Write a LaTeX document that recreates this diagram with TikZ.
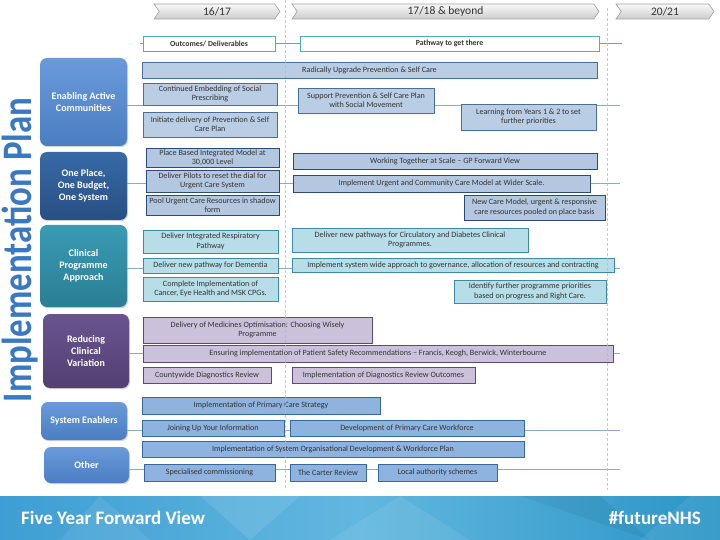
\documentclass[tikz,border=0pt]{standalone}
\usepackage{fontspec}
\setmainfont{Carlito}
\usetikzlibrary{shapes.symbols,shadows}
\definecolor{txt}{HTML}{333333}
\definecolor{aFill}{HTML}{B9CDE5}\definecolor{aDraw}{HTML}{4A6E9C}
\definecolor{bFill}{HTML}{B4C7E0}\definecolor{bDraw}{HTML}{2B4A78}
\definecolor{cFill}{HTML}{B7DDE8}\definecolor{cDraw}{HTML}{3B8CA3}
\definecolor{dFill}{HTML}{CCC1DA}\definecolor{dDraw}{HTML}{5F497A}
\definecolor{eFill}{HTML}{8FB3DF}\definecolor{eDraw}{HTML}{3A66A0}
\definecolor{catAt}{HTML}{6A9ADA}\definecolor{catAb}{HTML}{4A7EC2}
\definecolor{catBt}{HTML}{386AA6}\definecolor{catBb}{HTML}{284F84}
\definecolor{catCt}{HTML}{3A9BB3}\definecolor{catCb}{HTML}{2A7E95}
\definecolor{catDt}{HTML}{6A5490}\definecolor{catDb}{HTML}{533F72}
\definecolor{titleblue}{HTML}{3A78C2}
\definecolor{rowline}{HTML}{8EA9C8}
\definecolor{tealline}{HTML}{4BACC6}
\definecolor{footL}{HTML}{3E9ED3}\definecolor{footM}{HTML}{62B7DF}\definecolor{footR}{HTML}{2B95C6}
\newcommand\mybox[7]{\node[#2, minimum width={#5-#3}, minimum height={#6-#4}] (#1) at ({(#3+#5)/2},{(#4+#6)/2}) {#7};}
\begin{document}
\begin{tikzpicture}[x=1pt,y=-1pt,
  every node/.style={font=\fontsize{8.1}{9.4}\selectfont, text=txt, align=center, inner sep=0pt},
  rbase/.style={line width=0.8pt},
  ra/.style={rbase, fill=aFill, draw=aDraw},
  rb/.style={rbase, fill=bFill, draw=bDraw},
  rc/.style={rbase, fill=cFill, draw=cDraw},
  rd/.style={rbase, fill=dFill, draw=dDraw},
  re/.style={rbase, fill=eFill, draw=eDraw},
  ob/.style={draw=tealline, fill=white, line width=0.8pt, font=\fontsize{7.8}{9}\selectfont\bfseries},
  cat/.style={rounded corners=7pt, text=white, font=\fontsize{10}{11.8}\selectfont\bfseries,
     drop shadow={shadow xshift=1pt, shadow yshift=-1.2pt, opacity=0.35}},
  chev/.style={signal, signal from=west, signal to=east, signal pointer angle=110,
     draw=gray!75, top color=gray!5, bottom color=gray!40, line width=0.6pt,
     font=\fontsize{11.5}{12}\selectfont, text=black!80},
  rline/.style={draw=rowline, line width=0.7pt},
  periodline/.style={draw=gray!55, dash pattern=on 3pt off 2pt, line width=0.8pt}
]
\useasboundingbox (0,0) rectangle (720,540);
% title
\node[rotate=90, anchor=base, font=\fontsize{42}{42}\selectfont\bfseries, text=titleblue] (title) at (31,250) {\scalebox{0.83}[1]{Implementation Plan}};
% header chevrons
\mybox{h1}{chev}{154}{4}{280}{19}{16/17}
\mybox{h2}{chev}{292}{4}{599}{19}{17/18 \& beyond}
\mybox{h3}{chev}{616}{4}{714}{19}{20/21}
% outcomes line
\coordinate (oL) at (140,43); \coordinate (oR) at (622,43);
\draw[draw=tealline, line width=0.6pt] (oL) -- (oR);
\mybox{o1}{ob}{143}{36}{275}{51}{Outcomes/ Deliverables}
\mybox{o2}{ob}{300}{36}{599}{51}{Pathway to get there}
% category boxes
\mybox{catA}{cat, top color=catAt, bottom color=catAb}{40}{58}{127}{146}{Enabling Active\\Communities}
\mybox{catB}{cat, top color=catBt, bottom color=catBb}{40}{152}{127}{220}{One Place,\\One Budget,\\One System}
\mybox{catC}{cat, top color=catCt, bottom color=catCb}{40}{225}{127}{307}{Clinical\\Programme\\Approach}
\mybox{catD}{cat, top color=catDt, bottom color=catDb}{43}{314}{129}{388}{Reducing\\Clinical\\Variation}
\mybox{catE}{cat, top color=catAt, bottom color=catAb}{41}{402}{127}{440}{System Enablers}
\mybox{catF}{cat, top color=catAt, bottom color=catAb}{44}{447}{129}{483}{Other}
% row lines
\coordinate (eA) at (620,105);
\coordinate (eB) at (620,183);
\coordinate (eC) at (620,268);
\coordinate (eD) at (620,353);
\coordinate (eE) at (620,430);
\coordinate (eF) at (620,469);
\draw[rline] (catA.east |- eA) -- (eA);
\draw[rline] (catB.east |- eB) -- (eB);
\draw[rline] (catC.east |- eC) -- (eC);
\draw[rline] (catD.east |- eD) -- (eD);
\draw[rline] (catE.east |- eE) -- (eE);
\draw[rline] (catF.east |- eF) -- (eF);
% row A
\mybox{a0}{ra}{142}{62}{597}{78}{Radically Upgrade Prevention \& Self Care}
\mybox{a1}{ra}{143}{83}{277}{105}{Continued Embedding of Social\\Prescribing}
\mybox{a2}{ra}{143}{112}{277}{137}{Initiate delivery of Prevention \& Self\\Care Plan}
\mybox{a3}{ra}{298}{88}{434}{113}{Support Prevention \& Self Care Plan\\with Social Movement}
\mybox{a4}{ra}{461}{104}{596}{130}{Learning from Years 1 \& 2 to set\\further priorities}
% row B
\mybox{b1}{rb}{146}{148}{279}{167}{Place Based Integrated Model at\\30,000 Level}
\mybox{b2}{rb}{146}{170}{279}{192}{Deliver Pilots to reset the dial for\\Urgent Care System}
\mybox{b3}{rb}{146}{195}{279}{215}{Pool Urgent Care Resources in shadow\\form}
\mybox{b4}{rb}{293}{153}{597}{169}{Working Together at Scale – GP Forward View}
\mybox{b5}{rb}{293}{175}{590}{192}{Implement Urgent and Community Care Model at Wider Scale.}
\mybox{b6}{rb}{464}{195}{605}{220}{New Care Model, urgent \& responsive\\care resources pooled on place basis}
% row C
\mybox{c1}{rc}{143}{230}{278}{253}{Deliver Integrated Respiratory\\Pathway}
\mybox{c2}{rc}{143}{258}{278}{273}{Deliver new pathway for Dementia}
\mybox{c3}{rc}{143}{277}{278}{301}{Complete Implementation of\\Cancer, Eye Health and MSK CPGs.}
\mybox{c4}{rc}{292}{228}{528}{252}{Deliver new pathways for Circulatory and Diabetes Clinical\\Programmes.}
\mybox{c5}{rc}{292}{258}{614}{272}{Implement system wide approach to governance, allocation of resources and contracting}
\mybox{c6}{rc}{454}{280}{606}{303}{Identify further programme priorities\\based on progress and Right Care.}
% row D
\mybox{d1}{rd}{143}{317}{372}{343}{Delivery of Medicines Optimisation: Choosing Wisely\\Programme}
\mybox{d2}{rd}{143}{345}{613}{362}{Ensuring implementation of Patient Safety Recommendations – Francis, Keogh, Berwick, Winterbourne}
\mybox{d3}{rd}{143}{367}{271}{383}{Countywide Diagnostics Review}
\mybox{d4}{rd}{292}{367}{475}{383}{Implementation of Diagnostics Review Outcomes}
% row E
\mybox{e1}{re}{142}{397}{380}{414}{Implementation of Primary Care Strategy}
\mybox{e2}{re}{142}{420}{284}{436}{Joining Up Your Information}
\mybox{e3}{re}{290}{420}{524}{436}{Development of Primary Care Workforce}
\mybox{e4}{re}{142}{441}{524}{457}{Implementation of System Organisational Development \& Workforce Plan}
\mybox{e5}{re}{144}{464}{275}{481}{Specialised commissioning}
\mybox{e6}{re}{290}{464}{366}{481}{The Carter Review}
\mybox{e7}{re}{378}{464}{497}{481}{Local authority schemes}
% dashed period lines
\coordinate (d1t) at (285,0); \coordinate (d1b) at (285,490);
\coordinate (d2t) at (607,8); \coordinate (d2b) at (607,490);
\draw[periodline, opacity=0.8] (d1t) -- (d1b);
\draw[periodline, opacity=0.8] (d2t) -- (d2b);
% footer
\shade[left color=footL, right color=footR, middle color=footM] (0,496) rectangle (720,540);
\fill[white, opacity=0.08] (60,540) -- (100,496) -- (150,540) -- cycle;
\fill[white, opacity=0.10] (200,496) -- (300,496) -- (250,540) -- cycle;
\fill[white, opacity=0.08] (330,540) -- (400,496) -- (470,540) -- cycle;
\fill[black, opacity=0.05] (520,496) -- (600,496) -- (650,540) -- cycle;
\fill[white, opacity=0.07] (640,540) -- (690,496) -- (720,496) -- (720,540) -- cycle;
\node[anchor=base west, text=white, font=\fontsize{19}{20}\selectfont\bfseries] (fyfv) at (21,524) {Five Year Forward View};
\node[anchor=base east, text=white, font=\fontsize{19}{20}\selectfont\bfseries] (fnhs) at (701,524) {\#futureNHS};
\end{tikzpicture}
\end{document}
